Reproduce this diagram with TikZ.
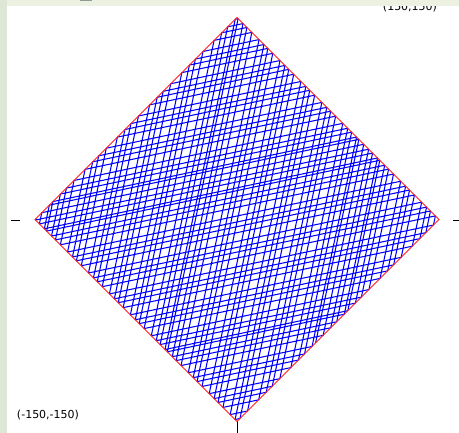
\documentclass[tikz,border=0pt]{standalone}
\usepackage{fontspec}
\setsansfont{DejaVu Sans}
\definecolor{stripleft}{RGB}{222,231,214}
\definecolor{striptop}{RGB}{236,241,225}
\definecolor{tabgray}{RGB}{140,156,146}
\definecolor{pathblue}{RGB}{0,0,255}
\definecolor{wallred}{RGB}{255,30,30}

\begin{document}
\begin{tikzpicture}[x=1pt,y=1pt,
    trajline/.style={pathblue, line width=1.05pt, line join=round},
    wall/.style={wallred, line width=0.9pt},
    axistick/.style={black, line width=1pt},
    cornerlabel/.style={font=\sffamily\fontsize{11}{13}\selectfont, inner sep=0pt}]
  \useasboundingbox (0,0) rectangle (459,433);
  % window background
  \fill[stripleft] (0,0) rectangle (459,433);
  \fill[white] (7,0) rectangle (459,427);
  \node[cornerlabel, anchor=base] (highcorner) at (410,422.5) {(150,150)};
  \fill[striptop] (7,427) rectangle (459,433);
  \fill[tabgray] (80,431.5) rectangle (92,433);
  \node[cornerlabel] (lowcorner) at (48,18) {(-150,-150)};
  % axis ticks
  \draw[axistick] (11,212) -- (20,212);
  \draw[axistick] (453,212) -- (459,212);
  \draw[axistick] (237,0) -- (237,12);
  % billiard path in the square
  \pgfmathsetmacro\hs{142.84}
  \xdef\bx{-31.7}\xdef\by{-142.84}
  \pgfmathsetmacro\bdx{cos(33)}\xdef\bdx{\bdx}
  \pgfmathsetmacro\bdy{sin(33)}\xdef\bdy{\bdy}
  \xdef\trajpath{(\bx,\by)}
  \foreach \k in {1,...,135}{
    \pgfmathsetmacro\tx{(\bdx)>0 ? (\hs-(\bx))/(\bdx) : (-\hs-(\bx))/(\bdx)}
    \pgfmathsetmacro\ty{(\bdy)>0 ? (\hs-(\by))/(\bdy) : (-\hs-(\by))/(\bdy)}
    \pgfmathtruncatemacro\hitx{\tx<\ty}
    \ifnum\hitx=1
      \pgfmathsetmacro\nx{(\bdx)>0 ? \hs : -\hs}
      \pgfmathsetmacro\ny{(\by)+\tx*(\bdy)}
      \pgfmathsetmacro\ndx{(\bdx)*(-1)}
      \xdef\bdx{\ndx}
    \else
      \pgfmathsetmacro\ny{(\bdy)>0 ? \hs : -\hs}
      \pgfmathsetmacro\nx{(\bx)+\ty*(\bdx)}
      \pgfmathsetmacro\ndy{(\bdy)*(-1)}
      \xdef\bdy{\ndy}
    \fi
    \xdef\bx{\nx}\xdef\by{\ny}
    \xdef\trajpath{\trajpath -- (\bx,\by)}
  }
  \begin{scope}[shift={(237,213.5)}, rotate=45]
    \draw[trajline] \trajpath;
    \draw[wall] (-\hs,-\hs) rectangle (\hs,\hs);
  \end{scope}
\end{tikzpicture}
\end{document}
